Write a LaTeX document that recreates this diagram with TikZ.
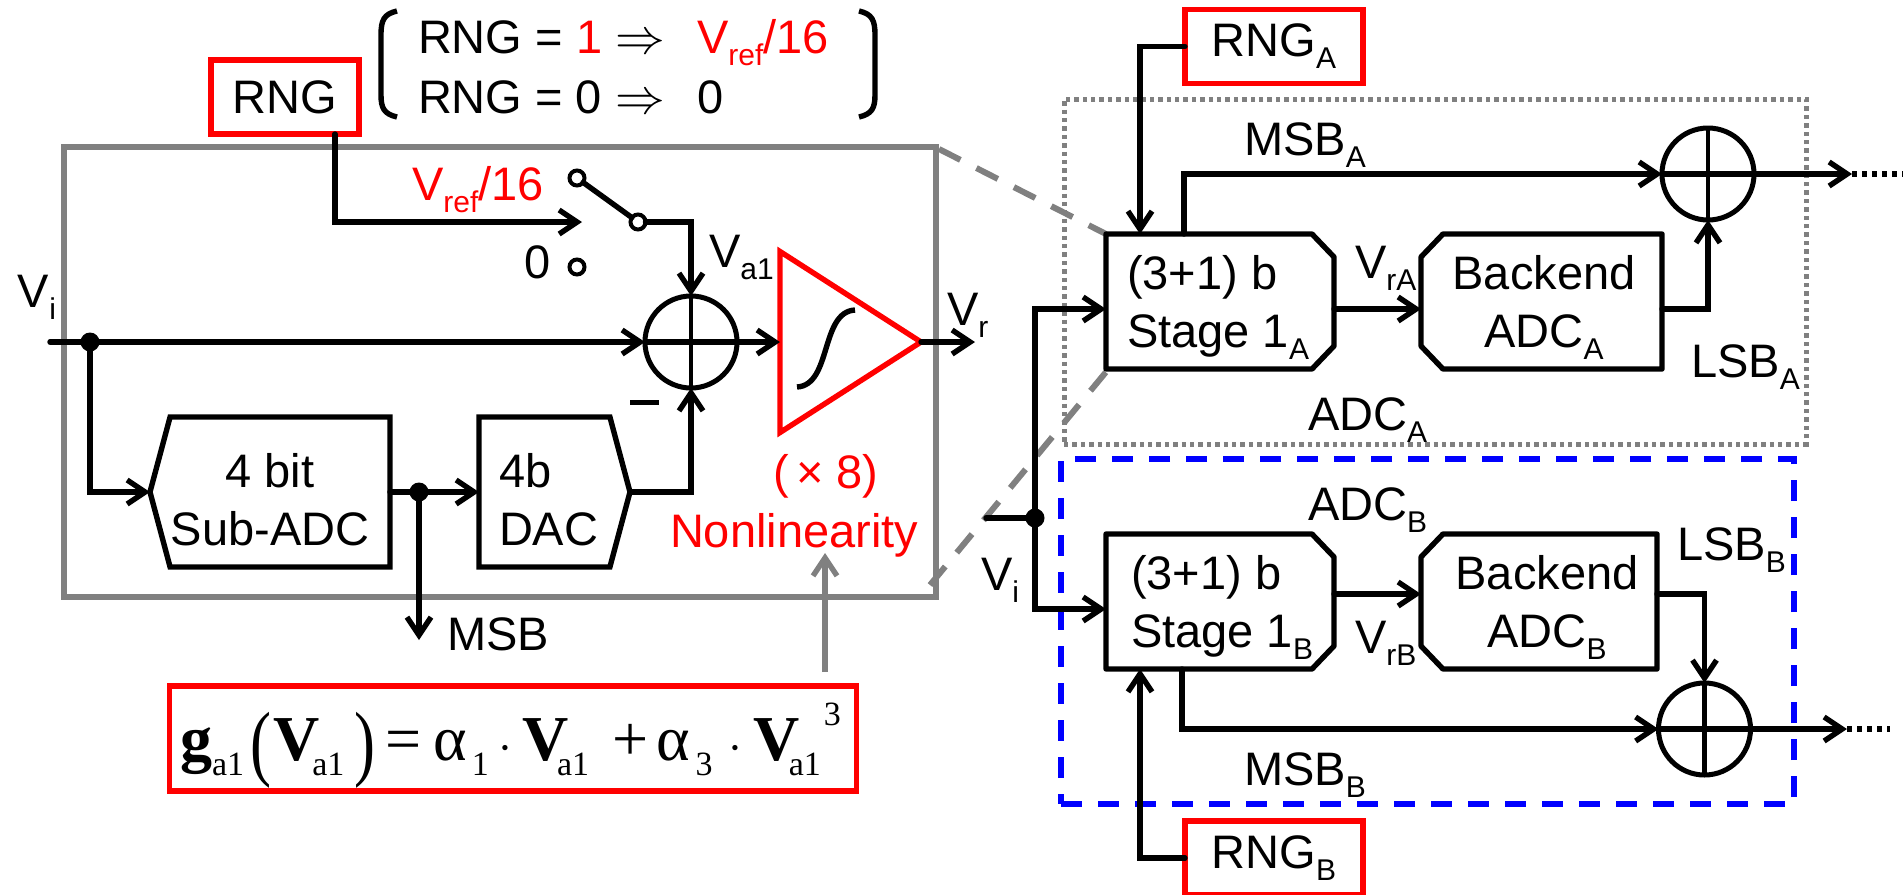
\documentclass[tikz,border=0pt]{standalone}
\usepackage{graphicx}
\usepackage{fontspec}
\setmainfont{Liberation Sans}
\newfontfamily\eqfont{Liberation Serif}
\usetikzlibrary{arrows.meta,shapes.symbols,shapes.geometric}

\newcommand{\lowsub}[1]{\raisebox{-6pt}{\fontsize{15}{15}\selectfont #1}}
\newcommand{\eqsub}[1]{\raisebox{-7.5pt}{\fontsize{17}{17}\selectfont #1}}
\newcommand{\eqparen}[1]{\raisebox{-5pt}{\scalebox{.75}[1]{\fontsize{42}{42}\selectfont #1}}}

\definecolor{framegray}{RGB}{128,128,128}

\tikzset{
  every node/.style={font=\fontsize{23.5}{29}\selectfont,inner sep=0pt,outer sep=0pt},
  wire/.style={line width=2.7pt,line cap=round},
  wirehead/.style={wire,-{Straight Barb[length=9pt,width=12pt,line width=2.7pt]}},
  lab/.style={anchor=base west},
  redlab/.style={lab,text=red},
  blocktext/.style={align=left,anchor=base west},
  blockline/.style={line width=2.7pt,line join=round},
  stagebox/.style={minimum height=67.5pt,minimum width=114pt},
  codebox/.style={draw,line width=2.7pt,signal,signal from=nowhere,
    signal pointer angle=150,minimum height=75pt},
  sumjunction/.style={circle,draw,line width=2.5pt,minimum size=46pt,
    path picture={
      \draw[line width=2.2pt] (path picture bounding box.north) -- (path picture bounding box.south);
      \draw[line width=3pt] (path picture bounding box.west) -- (path picture bounding box.east);
    }},
  solderdot/.style={circle,fill,minimum size=9.5pt},
  swpin/.style={circle,draw,fill=white,line width=2pt,minimum size=7.5pt},
  redbox/.style={draw=red,line width=2.7pt,minimum width=74pt,minimum height=37pt},
}

\begin{document}
\begin{tikzpicture}[x=.5pt,y=-.5pt]
  \def\framethickness{2.7pt}
  \def\dotsthickness{3pt}
  \def\chamferx{11pt}
  \def\chamfery{11.5pt}

  \useasboundingbox (0,0) rectangle (1903,895);

  \draw[framegray,line width=3pt,dash pattern=on 12pt off 9pt] (939,149) -- (1106,234);
  \draw[framegray,line width=3pt,dash pattern=on 12pt off 9pt] (930,585) -- (1106,372);
  \node[draw=framegray,line width=\framethickness,minimum width=436pt,minimum height=225pt] (frame) at (500,372) {};
  \node[draw=framegray,line width=2.5pt,dash pattern=on 2.2pt off 2pt,minimum width=371pt,minimum height=172.5pt] (adcabox) at (1435,271.5) {};
  \node[draw=blue,line width=\framethickness,dash pattern=on 10.5pt off 8pt,minimum width=366.5pt,minimum height=172.5pt] (adcbbox) at (1427.5,631.5) {};

  % left part
  \node[redbox] (rng) at (285,97) {RNG};
  \node[solderdot] (dotin) at (90,342) {};
  \node[sumjunction] (suma) at (691,342) {};
  \node[codebox,signal to=west,anchor=west,minimum width=120pt] (subadc) at (150,492) {};
  \node[codebox,signal to=east,anchor=east,minimum width=75.5pt] (dac) at (630,492) {};
  \node[solderdot] (dotmsb) at (419,492) {};
  \node[isosceles triangle,isosceles triangle stretches,draw=red,line width=2.7pt,
        minimum width=90.5pt,minimum height=70.5pt,anchor=lower side] (amp) at (780,342) {};
  \node[swpin] (swtop) at (577,178) {};
  \node[swpin] (swbot) at (638,222) {};
  \node[swpin] (swzero) at (577,267) {};
  \coordinate (swtip) at (582,222);
  \coordinate (linein) at (50,342);
  \coordinate (msbtip) at (419,640);
  \coordinate (outtip) at (975,342);
  \coordinate (graytail) at (825,672);
  \coordinate (graytip) at (825,553);

  \draw[wirehead] ([xshift=25pt]rng.south) |- (swtip);
  \draw[wire] (swtop) -- (swbot);
  \draw[wirehead] (swbot) -| (suma.north);
  \draw[wirehead] (linein) -- (suma.west);
  \draw[wirehead] (suma.east) -- (amp.lower side);
  \draw[wirehead] (dotin) |- (subadc.west);
  \draw[wirehead] (subadc.east |- dotmsb) -- (dac.west |- dotmsb);
  \draw[wirehead] (dac.east) -| (suma.south);
  \draw[wirehead] (dotmsb) -- (msbtip);
  \draw[wirehead] (amp.apex) -- (outtip);
  \draw[line width=2.7pt] (797,387) .. controls (832,385) and (820,312) .. (855,310);
  \draw[framegray,-{Straight Barb[length=9pt,width=12pt,line width=2.7pt]},line width=2.7pt] (graytail) -- (graytip);
  \fill (630,399.5) rectangle (659,404.5);

  \draw[line width=2.7pt] (397,11) .. controls (384,14) and (381,20) .. (381,35) -- (381,95) .. controls (381,108) and (384,114) .. (397,117);
  \draw[line width=2.7pt] (859,11) .. controls (872,14) and (875,20) .. (875,35) -- (875,95) .. controls (875,108) and (872,114) .. (859,117);

  \node[lab] (rngone) at (418,53) {RNG = \textcolor{red}{1} $\Rightarrow$};
  \node[lab] (rngzero) at (418,113) {RNG = 0 $\Rightarrow$};
  \node[redlab] (vrefone) at (697,53) {V\lowsub{ref}/16};
  \node[lab] (zeroval) at (697,113) {0};
  \node[redlab] (vrefsw) at (412,200) {V\lowsub{ref}/16};
  \node[lab] (zerosw) at (524,278) {0};
  \node[lab] (labva) at (709,267) {V\lowsub{a1}};
  \node[lab] (labvi) at (18,307) {V\lowsub{i}};
  \node[lab] (labvr) at (947,325) {V\lowsub{r}};
  \node[lab] (labmsb) at (447,650) {MSB};
  \node[blocktext,align=center,anchor=base] (subadctext) at (270,545) {4 bit\\Sub-ADC};
  \node[blocktext] (dactext) at (499,545) {4b\\DAC};
  \node[redlab] (labgain) at (773,488) {(\hspace{4pt}×\hspace{6pt}8)};
  \node[redlab] (labnonlin) at (670,547) {Nonlinearity};

  \node[redbox,minimum width=343.5pt,minimum height=52.5pt] (eqbox) at (513,738.5) {};
  \node[anchor=base west] (eqtext) at (180,760) {\fontsize{32}{32}\selectfont\eqfont
    \textbf{g}\eqsub{a1}\hspace{3pt}\eqparen{(}\hspace{1pt}\textbf{V}\hspace{-3.5pt}\eqsub{a1}\hspace{5pt}\eqparen{)}\hspace{5pt}=\hspace{6pt}α\hspace{2.5pt}\eqsub{1}\hspace{5pt}$\cdot$\hspace{5pt}\textbf{V}\hspace{-6pt}\eqsub{a1}\hspace{11.5pt}+\hspace{4pt}α\hspace{3pt}\eqsub{3}\hspace{8pt}$\cdot$\hspace{5.5pt}\textbf{V}\hspace{-5.5pt}\eqsub{a1}\hspace{1.5pt}\raisebox{17.5pt}{\fontsize{17}{17}\selectfont 3}};

  % right part
  \foreach \side/\ytop/\rightx/\textx/\backx in {A/301.5/1662/1127/1544,B/601.5/1657/1131/1547}
  {
    \node[stagebox] (stage\side) at (1220,\ytop) {};
    \node[stagebox,minimum width=.5*\rightx pt-710.5pt] (backend\side) at ({(1421+\rightx)/2},\ytop) {};
    \draw[blockline] (stage\side.north west) -- ([xshift=-\chamferx]stage\side.north east)%
        -- ([yshift=-\chamfery]stage\side.north east) -- ([yshift=\chamfery]stage\side.south east)%
        -- ([xshift=-\chamferx]stage\side.south east) -- (stage\side.south west) -- cycle;
    \draw[blockline] (backend\side.north east) -- ([xshift=\chamferx]backend\side.north west)%
        -- ([yshift=-\chamfery]backend\side.north west) -- ([yshift=\chamfery]backend\side.south west)%
        -- ([xshift=\chamferx]backend\side.south west) -- (backend\side.south east) -- cycle;
    \node[blocktext] (stagetext\side) at (\textx,\ytop+46) {(3+1) b\\Stage 1\lowsub{\side}};
    \node[blocktext,align=center,anchor=base] (backendtext\side) at (\backx,\ytop+46) {Backend\\ADC\lowsub{\side}};
  }
  \node[redbox,minimum width=89pt] (rnga) at (1274,46.5) {RNG\lowsub{A}};
  \node[redbox,minimum width=89pt] (rngb) at (1274,858) {RNG\lowsub{B}};
  \node[sumjunction] (suma2) at (1708,174) {};
  \node[sumjunction] (sumb2) at (1704.5,729) {};
  \node[solderdot] (dotsplit) at (1035,518) {};
  \coordinate (splitin) at (986,518);
  \coordinate (outa) at (1852,174);
  \coordinate (enda) at (1903,174);
  \coordinate (outb) at (1847,729);
  \coordinate (endb) at (1890,729);

  \draw[wirehead] (rnga.west) -| ([xshift=-40pt]stageA.north);
  \draw[wirehead] (rngb.west) -| ([xshift=-40pt]stageB.south);
  \draw[wirehead] ([xshift=-18pt]stageA.north) |- (suma2.west);
  \draw[wirehead] ([xshift=-19pt]stageB.south) |- (sumb2.west);
  \draw[wirehead] (dotsplit) |- ([yshift=-3.75pt]stageA.west);
  \draw[wirehead] (dotsplit) |- ([yshift=-3.75pt]stageB.west);
  \draw[wire] (splitin) -- (dotsplit);
  \draw[wirehead] ([yshift=-3.75pt]stageA.east) -- ([yshift=-3.75pt]backendA.west);
  \draw[wirehead] ([yshift=3.75pt]stageB.east) -- ([yshift=3.75pt]backendB.west);
  \draw[wirehead] ([yshift=-3.75pt]backendA.east) -| (suma2.south);
  \draw[wirehead] ([yshift=3.75pt]backendB.east) -| (sumb2.north);
  \draw[wirehead] (suma2.east) -- (outa);
  \draw[wirehead] (sumb2.east) -- (outb);
  \draw[line width=\dotsthickness,dash pattern=on 2.5pt off 2.5pt] (outa) -- (enda);
  \draw[line width=\dotsthickness,dash pattern=on 2.5pt off 2.5pt] (outb) -- (endb);

  \node[lab] (labmsba) at (1244,155) {MSB\lowsub{A}};
  \node[lab] (labvra) at (1355,278) {V\lowsub{rA}};
  \node[lab] (lablsba) at (1691,377) {LSB\lowsub{A}};
  \node[lab] (labadca) at (1308,430) {ADC\lowsub{A}};
  \node[lab] (labadcb) at (1308,520) {ADC\lowsub{B}};
  \node[lab] (lablsbb) at (1677,560) {LSB\lowsub{B}};
  \node[lab] (labvrb) at (1355,653) {V\lowsub{rB}};
  \node[lab] (labmsbb) at (1244,785) {MSB\lowsub{B}};
  \node[lab] (labvib) at (981,590) {V\lowsub{i}};
\end{tikzpicture}
\end{document}
